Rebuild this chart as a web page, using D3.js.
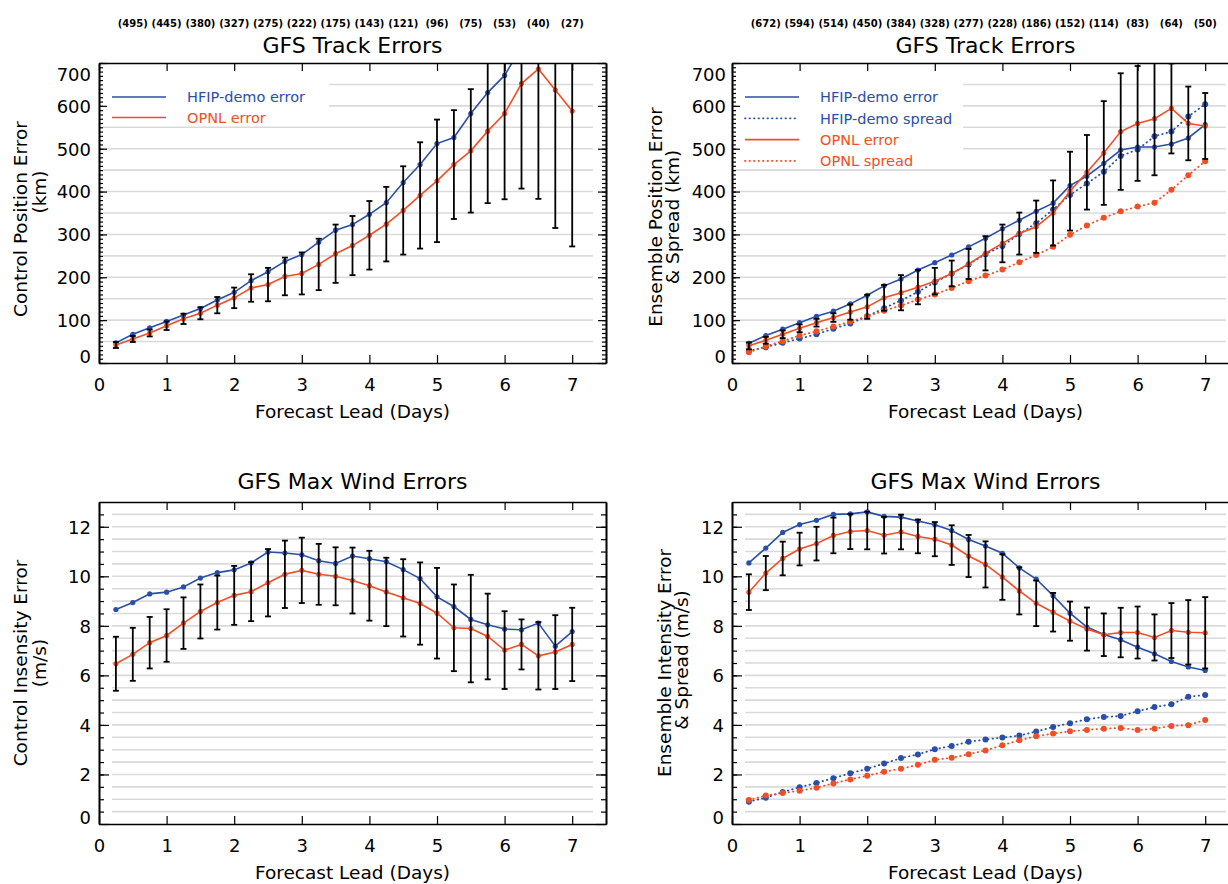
<!DOCTYPE html>
<html>
<head>
<meta charset="utf-8">
<script src="https://cdn.jsdelivr.net/npm/d3@7"></script>
<style>
  body { margin: 0; background: #fff; }
  svg { display: block; }
</style>
</head>
<body>
<div id="chart"></div>
<script>
// lead times (days) shared by every panel
var leadDays = [0.25, 0.5, 0.75, 1, 1.25, 1.5, 1.75, 2, 2.25, 2.5, 2.75, 3, 3.25, 3.5,
    3.75, 4, 4.25, 4.5, 4.75, 5, 5.25, 5.5, 5.75, 6, 6.25, 6.5, 6.75, 7];

// sample counts printed above the track panels
var countDays = [0.5, 1, 1.5, 2, 2.5, 3, 3.5, 4, 4.5, 5, 5.5, 6, 6.5, 7];
var ctlCounts = [495, 445, 380, 327, 275, 222, 175, 143, 121, 96, 75, 53, 40, 27];
var ensCounts = [672, 594, 514, 450, 384, 328, 277, 228, 186, 152, 114, 83, 64, 50];

// control track errors (km)
var ctlTrkHfip = [47, 67, 82, 97, 112, 127, 147, 165, 192, 213, 237, 253, 282, 310, 323, 347,
    374, 421, 463, 512, 526, 582, 631, 671, 738, 790, 805, 785];
var ctlTrkOpnl = [42, 56, 70, 87, 103, 116, 135, 152, 175, 183, 202, 209, 230, 255, 274, 298,
    324, 356, 391, 425, 463, 495, 541, 582, 652, 686, 637, 588];
var ctlTrkCI = [7, 7, 8, 10, 12, 14, 19, 24, 32, 39, 44, 49, 60, 68, 69, 80, 87, 103, 124, 143,
    127, 144, 168, 200, 245, 303, 322, 316];

// ensemble track errors and spread (km)
var ensTrkHfipErr = [46, 64, 79, 94, 109, 121, 138, 158, 180, 196, 217, 234, 252, 271, 291, 313,
    333, 354, 373, 414, 436, 466, 497, 504, 504, 511, 525, 556];
var ensTrkHfipSpr = [28, 37, 47, 57, 67, 80, 92, 109, 128, 146, 166, 188, 209, 230, 254, 273,
    301, 326, 358, 392, 419, 446, 483, 498, 529, 540, 575, 604];
var ensTrkOpnlErr = [40, 53, 67, 81, 94, 106, 119, 131, 152, 164, 177, 191, 209, 231, 256, 279,
    302, 318, 350, 401, 445, 490, 540, 559, 570, 594, 559, 553];
var ensTrkOpnlSpr = [25, 39, 51, 64, 74, 85, 97, 109, 122, 134, 148, 160, 175, 191, 204, 218,
    235, 252, 271, 299, 321, 339, 354, 365, 374, 404, 438, 471];
var ensTrkCI = [8, 8, 9, 9, 9, 10, 18, 28, 30, 41, 40, 31, 30, 35, 40, 44, 49, 61, 76, 92, 87,
    121, 136, 134, 132, 105, 86, 77];

// control intensity errors (m/s)
var ctlIntHfip = [8.66, 8.94, 9.29, 9.36, 9.57, 9.93, 10.15, 10.26, 10.54, 10.98, 10.94, 10.87,
    10.63, 10.52, 10.82, 10.71, 10.59, 10.27, 9.91, 9.17, 8.78, 8.26, 8.04, 7.87, 7.84, 8.11, 7.18, 7.77];
var ctlIntOpnl = [6.47, 6.85, 7.32, 7.61, 8.11, 8.58, 8.94, 9.23, 9.38, 9.74, 10.08, 10.24,
    10.08, 10.0, 9.83, 9.62, 9.37, 9.13, 8.90, 8.51, 7.92, 7.89, 7.57, 7.02, 7.25, 6.79, 6.94, 7.25];
var ctlIntCI = [1.09, 1.07, 1.04, 1.06, 1.04, 1.09, 1.09, 1.19, 1.19, 1.36, 1.36, 1.32, 1.23,
    1.17, 1.33, 1.41, 1.38, 1.56, 1.66, 1.83, 1.75, 2.17, 1.73, 1.57, 1.01, 1.36, 1.49, 1.48];

// ensemble intensity errors and spread (m/s)
var ensIntHfipErr = [10.54, 11.14, 11.77, 12.09, 12.26, 12.50, 12.52, 12.60, 12.42, 12.39, 12.23,
    12.08, 11.85, 11.49, 11.22, 10.93, 10.34, 9.89, 9.22, 8.51, 7.95, 7.65, 7.44, 7.14, 6.87, 6.56, 6.34, 6.20];
var ensIntHfipSpr = [0.90, 1.06, 1.29, 1.48, 1.66, 1.85, 2.05, 2.23, 2.44, 2.66, 2.81, 3.02, 3.15,
    3.32, 3.41, 3.49, 3.57, 3.73, 3.92, 4.07, 4.23, 4.32, 4.36, 4.55, 4.72, 4.83, 5.14, 5.21];
var ensIntOpnlErr = [9.36, 10.13, 10.72, 11.10, 11.32, 11.65, 11.81, 11.85, 11.66, 11.79, 11.61,
    11.50, 11.26, 10.82, 10.48, 9.97, 9.41, 8.91, 8.55, 8.19, 7.87, 7.64, 7.73, 7.73, 7.53, 7.81, 7.74, 7.72];
var ensIntOpnlSpr = [0.97, 1.15, 1.25, 1.34, 1.46, 1.64, 1.80, 1.95, 2.11, 2.23, 2.39, 2.59, 2.67,
    2.82, 2.97, 3.18, 3.38, 3.54, 3.65, 3.74, 3.80, 3.85, 3.88, 3.79, 3.85, 3.96, 3.99, 4.20];
var ensIntCI = [0.72, 0.69, 0.68, 0.66, 0.68, 0.72, 0.71, 0.76, 0.74, 0.70, 0.68, 0.69, 0.80,
    0.85, 0.93, 0.92, 0.95, 0.92, 0.78, 0.79, 0.87, 0.86, 1.00, 1.05, 0.93, 1.11, 1.30, 1.44];

var BLUE = "#2a4fa6",
    RED = "#f24e26",
    GRID = "#dadada",
    FONT = "DejaVu Sans";

var svg = d3.select("#chart")
    .append("svg")
    .attr("width", 1228)
    .attr("height", 884)
    .style("font-family", FONT);

svg.append("rect").attr("width", 1228).attr("height", 884).attr("fill", "#fff");

var clipId = 0;

function drawPanel(o) {
    var g = svg.append("g");
    var right = o.left + 507;

    var x = d3.scaleLinear().domain([0, 7.5]).range([o.left, right]);
    var y = d3.scaleLinear().domain(o.yDomain).range([o.bottom, o.top]);

    clipId++;
    g.append("clipPath").attr("id", "clip" + clipId)
        .append("rect")
        .attr("x", o.left).attr("y", o.top)
        .attr("width", right - o.left).attr("height", o.bottom - o.top);

    // grid
    g.append("g").selectAll("line")
        .data(o.gridVals)
        .join("line")
        .attr("x1", o.left + o.gridInset[0])
        .attr("x2", right - o.gridInset[1])
        .attr("y1", function (d) { return y(d); })
        .attr("y2", function (d) { return y(d); })
        .attr("stroke", GRID)
        .attr("stroke-width", 1.6);

    // white box behind legend
    if (o.legend) {
        g.append("rect")
            .attr("x", o.left + 1).attr("y", o.top + 1)
            .attr("width", o.legend.boxW).attr("height", o.legend.boxH)
            .attr("fill", "#fff");
    }

    var plot = g.append("g").attr("clip-path", "url(#clip" + clipId + ")");

    var line = d3.line()
        .x(function (d, i) { return x(leadDays[i]); })
        .y(function (d) { return y(d); });

    o.series.forEach(function (s) {
        plot.append("path")
            .datum(s.values)
            .attr("d", line)
            .attr("fill", "none")
            .attr("stroke", s.color)
            .attr("stroke-width", s.dotted ? 1.8 : 1.6)
            .attr("stroke-linecap", s.dotted ? "round" : "butt")
            .attr("stroke-dasharray", s.dotted ? "0.5,4" : null);

        plot.append("g").selectAll("circle")
            .data(s.values)
            .join("circle")
            .attr("cx", function (d, i) { return x(leadDays[i]); })
            .attr("cy", function (d) { return y(d); })
            .attr("r", s.dotted ? 3 : 2.6)
            .attr("fill", s.color);
    });

    // error bars, centred on the OPNL error
    var bars = plot.append("g")
        .attr("stroke", "#000")
        .attr("stroke-width", 1.8);
    o.ci.forEach(function (h, i) {
        var cx = x(leadDays[i]),
            lo = y(o.ciCenter[i] - h),
            hi = y(o.ciCenter[i] + h);
        bars.append("line").attr("x1", cx).attr("x2", cx).attr("y1", lo).attr("y2", hi);
        bars.append("line").attr("x1", cx - 3).attr("x2", cx + 3).attr("y1", lo).attr("y2", lo);
        bars.append("line").attr("x1", cx - 3).attr("x2", cx + 3).attr("y1", hi).attr("y2", hi);
    });

    // axes, IDL style with ticks pointing inwards on all four sides
    var xTicks = [0, 1, 2, 3, 4, 5, 6, 7];
    var xb = g.append("g").attr("transform", "translate(0," + o.bottom + ")")
        .call(d3.axisBottom(x).tickValues(xTicks).tickSize(-8).tickSizeOuter(0).tickPadding(15));
    g.append("g").attr("transform", "translate(0," + o.top + ")")
        .call(d3.axisTop(x).tickValues(xTicks).tickSize(-8).tickSizeOuter(0).tickFormat(""));

    var yl = g.append("g").attr("transform", "translate(" + o.left + ",0)")
        .call(d3.axisLeft(y).tickValues(o.yMajor).tickSize(-o.majorLen).tickSizeOuter(0).tickPadding(o.labelPad));
    g.append("g").attr("transform", "translate(" + o.left + ",0)")
        .call(d3.axisLeft(y).tickValues(o.yMinor).tickSize(-o.minorLen).tickSizeOuter(0).tickFormat(""));
    g.append("g").attr("transform", "translate(" + right + ",0)")
        .call(d3.axisRight(y).tickValues(o.yMajor).tickSize(-o.majorLen).tickSizeOuter(0).tickFormat(""));
    g.append("g").attr("transform", "translate(" + right + ",0)")
        .call(d3.axisRight(y).tickValues(o.yMinor).tickSize(-o.minorLen).tickSizeOuter(0).tickFormat(""));

    g.selectAll(".domain").attr("stroke", "#000").attr("stroke-width", 1.6);
    g.selectAll(".tick line").attr("stroke", "#000").attr("stroke-width", 1.2);
    g.selectAll(".tick text")
        .attr("font-family", FONT)
        .attr("font-size", 18)
        .attr("fill", "#000");

    // keep the end labels inside the frame
    yl.selectAll(".tick text").attr("dy", function (d) {
        if (d === o.yDomain[1]) return "0.95em";
        if (d === 0) return "-0.05em";
        return "0.35em";
    });

    // titles
    g.append("text")
        .attr("x", (o.left + right) / 2).attr("y", o.titleY)
        .attr("text-anchor", "middle").attr("dy", "0.36em")
        .attr("font-size", 22)
        .text(o.title);

    g.append("text")
        .attr("x", (o.left + right) / 2).attr("y", o.bottom + 48)
        .attr("text-anchor", "middle").attr("dy", "0.36em")
        .attr("font-size", 18.5)
        .text("Forecast Lead (Days)");

    o.yTitle.forEach(function (t) {
        g.append("text")
            .attr("transform", "translate(" + t.x + "," + t.y + ") rotate(-90)")
            .attr("text-anchor", "middle").attr("dy", "0.36em")
            .attr("font-size", 18.5)
            .text(t.text);
    });

    if (o.counts) {
        g.append("g").selectAll("text")
            .data(o.counts)
            .join("text")
            .attr("x", function (d, i) { return x(countDays[i]); })
            .attr("y", 23)
            .attr("dy", "0.36em")
            .attr("text-anchor", "middle")
            .attr("font-size", 10)
            .attr("font-weight", "bold")
            .text(function (d) { return "(" + d + ")"; });
    }

    if (o.legend) {
        o.legend.items.forEach(function (it, i) {
            var ly = o.legend.y0 + i * o.legend.step;
            g.append("line")
                .attr("x1", o.left + 13).attr("x2", o.left + 67)
                .attr("y1", ly).attr("y2", ly)
                .attr("stroke", it.color)
                .attr("stroke-width", it.dotted ? 1.8 : 1.6)
                .attr("stroke-linecap", it.dotted ? "round" : "butt")
                .attr("stroke-dasharray", it.dotted ? "0.5,4" : null);
            g.append("text")
                .attr("x", o.left + 88).attr("y", ly)
                .attr("dy", "0.36em")
                .attr("font-size", 14.5)
                .attr("fill", it.color)
                .text(it.label);
        });
    }
}

var trackGrid = [50, 100, 150, 200, 250, 300, 350, 400, 450, 500, 550, 600, 650];
var trackMinor = d3.range(0, 701, 10);
var windGrid = [0.5, 1, 1.5, 2, 2.5, 3, 3.5, 4, 4.5, 5, 5.5, 6, 6.5, 7, 7.5, 8, 8.5, 9, 9.5,
    10, 10.5, 11, 11.5, 12, 12.5];

// top left
drawPanel({
    left: 99, top: 63, bottom: 363, yDomain: [0, 700],
    yMajor: [0, 100, 200, 300, 400, 500, 600, 700], yMinor: trackMinor,
    majorLen: 8, minorLen: 4, labelPad: 8,
    gridVals: trackGrid, gridInset: [4, 13],
    title: "GFS Track Errors", titleY: 45,
    counts: ctlCounts,
    yTitle: [{ text: "Control Position Error", x: 20, y: 219 }, { text: "(km)", x: 39, y: 192 }],
    series: [
        { values: ctlTrkHfip, color: BLUE },
        { values: ctlTrkOpnl, color: RED }
    ],
    ci: ctlTrkCI, ciCenter: ctlTrkOpnl,
    legend: {
        boxW: 229, boxH: 59, y0: 97, step: 20.5,
        items: [
            { label: "HFIP-demo error", color: BLUE },
            { label: "OPNL error", color: RED }
        ]
    }
});

// top right
drawPanel({
    left: 732, top: 63, bottom: 363, yDomain: [0, 700],
    yMajor: [0, 100, 200, 300, 400, 500, 600, 700], yMinor: trackMinor,
    majorLen: 8, minorLen: 4, labelPad: 6,
    gridVals: trackGrid, gridInset: [2, 13],
    title: "GFS Track Errors", titleY: 45,
    counts: ensCounts,
    yTitle: [{ text: "Ensemble Position Error", x: 655, y: 217 }, { text: "& Spread (km)", x: 672, y: 217 }],
    series: [
        { values: ensTrkHfipErr, color: BLUE },
        { values: ensTrkHfipSpr, color: BLUE, dotted: true },
        { values: ensTrkOpnlErr, color: RED },
        { values: ensTrkOpnlSpr, color: RED, dotted: true }
    ],
    ci: ensTrkCI, ciCenter: ensTrkOpnlErr,
    legend: {
        boxW: 230, boxH: 103, y0: 97, step: 21.3,
        items: [
            { label: "HFIP-demo error", color: BLUE },
            { label: "HFIP-demo spread", color: BLUE, dotted: true },
            { label: "OPNL error", color: RED },
            { label: "OPNL spread", color: RED, dotted: true }
        ]
    }
});

// bottom left
drawPanel({
    left: 99, top: 502, bottom: 824, yDomain: [0, 13],
    yMajor: [0, 2, 4, 6, 8, 10, 12], yMinor: windGrid,
    majorLen: 10, minorLen: 5, labelPad: 8,
    gridVals: windGrid, gridInset: [13, 13],
    title: "GFS Max Wind Errors", titleY: 481,
    yTitle: [{ text: "Control Insensity Error", x: 20, y: 663 }, { text: "(m/s)", x: 39, y: 663 }],
    series: [
        { values: ctlIntHfip, color: BLUE },
        { values: ctlIntOpnl, color: RED }
    ],
    ci: ctlIntCI, ciCenter: ctlIntOpnl
});

// bottom right
drawPanel({
    left: 732, top: 502, bottom: 824, yDomain: [0, 13],
    yMajor: [0, 2, 4, 6, 8, 10, 12], yMinor: windGrid,
    majorLen: 10, minorLen: 5, labelPad: 8,
    gridVals: windGrid, gridInset: [13, 13],
    title: "GFS Max Wind Errors", titleY: 481,
    yTitle: [{ text: "Ensemble Intensity Error", x: 664, y: 663 }, { text: "& Spread (m/s)", x: 681, y: 660 }],
    series: [
        { values: ensIntHfipErr, color: BLUE },
        { values: ensIntHfipSpr, color: BLUE, dotted: true },
        { values: ensIntOpnlErr, color: RED },
        { values: ensIntOpnlSpr, color: RED, dotted: true }
    ],
    ci: ensIntCI, ciCenter: ensIntOpnlErr
});
</script>
</body>
</html>
